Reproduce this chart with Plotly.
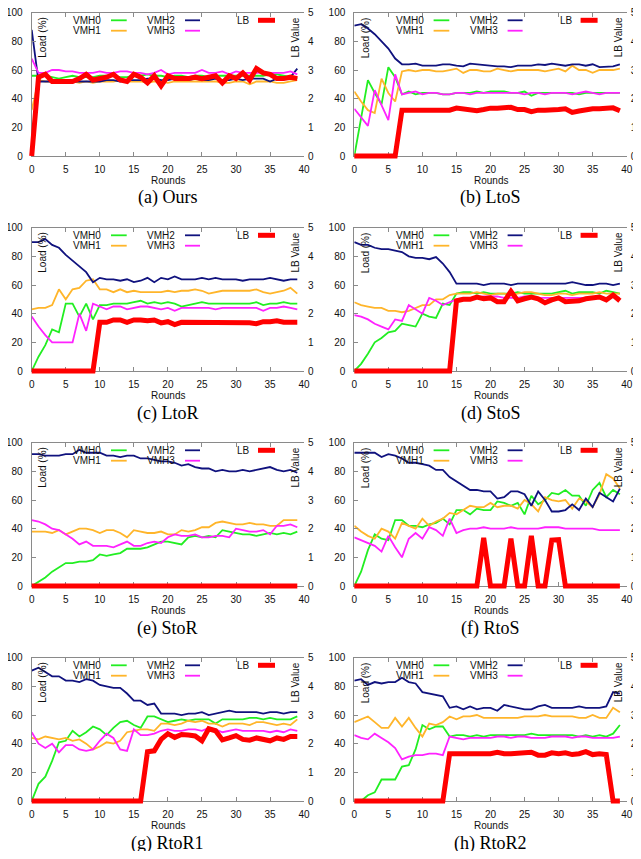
import plotly.graph_objects as go

# ---------------- data ----------------
rounds = list(range(40))
x_ticks = [0, 5, 10, 15, 20, 25, 30, 35, 40]
load_ticks = [0, 20, 40, 60, 80, 100]
lb_ticks = [0, 1, 2, 3, 4, 5]
series_names = ["VMH0", "VMH1", "VMH2", "VMH3"]
captions = ["(a) Ours", "(b) LtoS", "(c) LtoR", "(d) StoS",
            "(e) StoR", "(f) RtoS", "(g) RtoR1", "(h) RtoR2"]

# (a) Ours
a_vmh0 = [56, 56, 56, 55, 54, 55, 56, 55, 55, 55, 56, 56, 56, 55, 55, 56, 56, 57, 56, 56,
          55, 56, 56, 55, 56, 56, 55, 56, 56, 56, 56, 56, 56, 56, 56, 57, 57, 56, 55, 54]
a_vmh1 = [32, 53, 52, 52, 52, 52, 52, 51, 52, 51, 52, 52, 52, 53, 52, 52, 52, 51, 52, 52,
          51, 52, 52, 52, 52, 52, 52, 52, 51, 51, 52, 52, 50, 52, 52, 52, 51, 51, 52, 53]
a_vmh2 = [88, 52, 52, 52, 53, 53, 52, 52, 52, 52, 52, 53, 53, 52, 53, 53, 53, 54, 54, 53,
          53, 54, 54, 53, 54, 53, 53, 54, 53, 53, 54, 53, 54, 54, 54, 52, 54, 54, 55, 61]
a_vmh3 = [68, 58, 58, 60, 60, 59, 59, 58, 58, 58, 59, 58, 58, 59, 59, 58, 58, 57, 58, 60,
          57, 58, 58, 58, 58, 60, 58, 58, 59, 57, 59, 58, 58, 58, 58, 58, 58, 58, 59, 57]
a_lb = [0, 2.75, 2.85, 2.6, 2.6, 2.6, 2.6, 2.7, 2.85, 2.65, 2.7, 2.75, 2.85, 2.65, 2.6, 2.85,
        2.75, 2.55, 2.8, 2.45, 2.8, 2.7, 2.7, 2.7, 2.75, 2.7, 2.75, 2.8, 2.55, 2.8, 2.7, 2.9,
        2.65, 3.05, 2.9, 2.85, 2.7, 2.7, 2.75, 2.7]

# (b) LtoS
b_vmh0 = [0, 27, 53, 44, 36, 62, 55, 43, 45, 43, 44, 44, 44, 43, 43, 44, 44, 44, 45, 44,
          45, 45, 45, 44, 44, 45, 42, 44, 44, 44, 44, 44, 44, 43, 44, 44, 44, 44, 44, 44]
b_vmh1 = [45, 38, 32, 30, 54, 44, 38, 59, 60, 59, 60, 60, 59, 59, 60, 61, 58, 60, 60, 59,
          59, 61, 60, 59, 60, 60, 60, 60, 59, 60, 61, 59, 63, 60, 60, 58, 60, 60, 60, 61]
b_vmh2 = [91, 92, 89, 85, 80, 75, 68, 64, 64, 64.5, 63, 63, 63, 64, 64, 63, 62.5, 64.5, 64, 63,
          63, 62.5, 62.5, 62, 63, 63, 63, 64, 63.5, 64.5, 63.5, 63, 64, 64, 63, 64, 62, 62.5, 62.5, 64]
b_vmh3 = [33, 27, 21, 46, 36, 25, 57, 43, 44, 45, 43, 44, 44, 43, 43, 44, 44, 43, 44, 44,
          44, 44, 44, 44, 44, 43, 44, 44, 43, 44, 44, 44, 43, 44, 45, 44, 43, 44, 44, 44]
b_lb = [0, 0, 0, 0, 0, 0, 0, 1.6, 1.6, 1.62, 1.62, 1.62, 1.6, 1.6, 1.6, 1.67, 1.65, 1.62, 1.58, 1.62,
        1.67, 1.67, 1.67, 1.7, 1.62, 1.62, 1.55, 1.6, 1.6, 1.6, 1.62, 1.65, 1.52, 1.57, 1.62, 1.65,
        1.65, 1.65, 1.68, 1.58]

# (c) LtoR
c_vmh0 = [0, 10, 18, 29, 27, 47, 47, 38, 47, 36, 46, 46, 47, 47, 47, 48, 49, 47, 48, 47,
          48, 47, 45, 46, 47, 48, 47, 47, 47, 47, 47, 47, 47, 48, 46, 47, 47, 48, 47, 47]
c_vmh1 = [43, 44, 44, 46, 57, 50, 57, 58, 63, 64, 57, 57, 55, 57, 55, 56, 55, 55, 55, 55,
          56, 55, 56, 56, 57, 56, 54, 55, 56, 56, 56, 56, 56, 57, 55, 54, 55, 56, 58, 54]
c_vmh2 = [90, 90, 92, 88, 86, 81, 77, 73, 69, 62, 65, 64, 64, 63, 64, 62, 63, 65, 62, 65,
          64, 66, 64, 64, 64, 65, 64, 65, 64, 64, 64, 63, 64, 64, 64, 65, 64, 63, 64, 64]
c_vmh3 = [38, 31, 25, 20, 20, 20, 20, 40, 28, 47, 45, 43, 45, 45, 43, 44, 45, 45, 44, 43,
          44, 42, 44, 44, 44, 44, 44, 43, 44, 44, 44, 44, 44, 44, 42, 44, 44, 45, 44, 43]
c_lb = [0, 0, 0, 0, 0, 0, 0, 0, 0, 0, 1.7, 1.7, 1.78, 1.78, 1.7, 1.78, 1.78, 1.75, 1.78, 1.68,
        1.72, 1.62, 1.7, 1.7, 1.7, 1.72, 1.68, 1.7, 1.72, 1.7, 1.72, 1.7, 1.68, 1.65, 1.72, 1.72,
        1.75, 1.7, 1.7, 1.7]

# (d) StoS
d_vmh0 = [0, 5, 12, 20, 23, 27, 28, 33, 32, 31, 40, 38, 37, 47, 46, 54, 55, 55, 54, 55,
          54, 54, 54, 54, 55, 54, 54, 54, 54, 54, 55, 56, 54, 55, 55, 55, 54, 56, 55, 54]
d_vmh1 = [48, 46, 45, 44, 44, 42, 42, 41, 42, 44, 46, 46, 50, 50, 53, 54, 54, 54, 55, 54,
          53, 54, 54, 53, 54, 55, 55, 54, 53, 53, 54, 54, 53, 54, 54, 54, 55, 54, 54, 54]
d_vmh2 = [90, 88, 88, 86, 85, 85, 84, 83, 80, 79, 79, 78, 79.5, 75, 69, 61, 61, 61, 61, 60,
          61, 61, 61, 60, 61, 61, 61, 61, 61, 61, 61, 61, 62, 61, 60, 60, 61, 61, 60, 61]
d_vmh3 = [39, 38, 36, 33, 31, 29, 36, 35, 46, 43, 40, 51, 49, 46, 48, 50, 51, 51, 51, 52,
          52, 52, 51, 51, 51, 52, 52, 51, 51, 51, 51, 51, 51, 51, 51, 51, 51, 51, 52, 51]
d_lb = [0, 0, 0, 0, 0, 0, 0, 0, 0, 0, 0, 0, 0, 0, 0, 2.45, 2.5, 2.5, 2.58, 2.52,
        2.55, 2.42, 2.42, 2.78, 2.45, 2.52, 2.58, 2.52, 2.38, 2.48, 2.55, 2.42, 2.42, 2.45, 2.52,
        2.55, 2.58, 2.48, 2.65, 2.45]

# (e) StoR
e_vmh0 = [0, 3, 6, 10, 13, 16, 16, 17, 17, 18, 22, 21, 22, 23, 26, 26, 26, 27, 29, 31,
          31, 30, 29, 34, 35, 34, 35, 34, 39, 38, 37, 36, 36, 35, 36, 37, 36, 37, 36, 38]
e_vmh1 = [38, 38, 38, 37, 39, 36, 38, 40, 40, 39, 37, 39, 39, 37, 34, 39, 38, 37, 37, 38,
          36, 36, 39, 38, 39, 41, 41, 44, 45, 44, 43, 43, 44, 43, 43, 42, 42, 46, 46, 46]
e_vmh2 = [92, 92, 91, 91, 91, 92, 92, 95, 93, 93, 93, 91, 91, 90, 91, 91, 89, 89, 88, 87,
          87, 86, 84, 85, 83, 82, 82, 80, 81, 80, 80, 81, 80, 81, 82, 83, 81, 80, 81, 79]
e_vmh3 = [46, 45, 43, 40, 39, 36, 33, 29, 31, 28, 28, 28, 27, 29, 31, 28, 28, 30, 31, 30,
          34, 36, 35, 35, 36, 34, 34, 35, 35, 34, 40, 39, 38, 38, 39, 36, 42, 42, 43, 41]
e_lb = [0, 0, 0, 0, 0, 0, 0, 0, 0, 0, 0, 0, 0, 0, 0, 0, 0, 0, 0, 0,
        0, 0, 0, 0, 0, 0, 0, 0, 0, 0, 0, 0, 0, 0, 0, 0, 0, 0, 0, 0]

# (f) RtoS
f_vmh0 = [0, 10, 25, 36, 33, 32, 46, 46, 42, 42, 41, 43, 44, 47, 43, 53, 53, 50, 54, 53,
          53, 59, 58, 56, 58, 50, 63, 57, 60, 65, 64, 67, 63, 63, 56, 67, 72, 62, 67, 64]
f_vmh1 = [42, 38, 35, 33, 40, 38, 33, 44, 42, 40, 47, 42, 45, 47, 51, 50, 53, 56, 55, 55,
          58, 55, 56, 56, 54, 60, 57, 52, 62, 60, 59, 60, 54, 61, 59, 55, 64, 78, 75, 68]
f_vmh2 = [93, 93, 93, 93, 90, 92, 91, 89, 86, 86, 85, 84, 81, 81, 76, 73, 70, 67, 67, 66,
          66, 61, 62, 66, 66, 64, 56, 66, 60, 52, 52, 53, 57, 53, 61, 55, 65, 62, 59, 68]
f_vmh3 = [34, 32, 30, 28, 24, 35, 27, 20, 33, 37, 33, 41, 39, 35, 47, 37, 39, 40, 40, 41,
          40, 40, 40, 41, 40, 40, 40, 40, 41, 41, 41, 40, 40, 40, 40, 40, 39, 39, 39, 39]
f_lb = [0, 0, 0, 0, 0, 0, 0, 0, 0, 0, 0, 0, 0, 0, 0, 0, 0, 0, 0, 1.68,
        0, 0, 0, 1.65, 0, 0, 1.75, 0, 0, 1.6, 1.62, 0, 0, 0, 0, 0, 0, 0, 0, 0]

# (g) RtoR1
g_vmh0 = [0, 12, 17, 28, 41, 42, 49, 45, 48, 52, 50, 46, 51, 55, 56, 53, 51, 59, 59, 57,
          55, 56, 57, 56, 57, 57, 57, 54, 57, 57, 57, 57, 58, 58, 57, 58, 57, 57, 57, 59]
g_vmh1 = [44, 43, 45, 44, 43, 44, 42, 43, 40, 36, 38, 41, 40, 42, 48, 49, 50, 50, 49, 54,
          54, 53, 54, 56, 55, 56, 54, 54, 52, 54, 54, 54, 53, 55, 55, 54, 53, 54, 53, 57]
g_vmh2 = [91, 93, 90, 87, 87, 84, 84, 83, 85, 84, 81, 80, 79, 79, 75, 70, 70, 67, 68, 61,
          61, 61, 60, 61, 61, 62, 60, 61, 62, 63, 62, 62, 62, 62, 61, 62, 62, 61, 62, 62]
g_vmh3 = [48, 40, 37, 40, 34, 39, 39, 36, 35, 36, 42, 47, 44, 36, 35, 50, 46, 46, 47, 49,
          50, 49, 49, 50, 50, 49, 51, 50, 48, 49, 50, 49, 49, 49, 49, 48, 49, 48, 50, 49]
g_lb = [0, 0, 0, 0, 0, 0, 0, 0, 0, 0, 0, 0, 0, 0, 0, 0, 0, 1.72, 1.75, 2.15,
        2.35, 2.22, 2.32, 2.3, 2.27, 2.1, 2.52, 2.45, 2.13, 2.2, 2.28, 2.15, 2.12, 2.2, 2.15,
        2.1, 2.2, 2.15, 2.25, 2.25]

# (h) RtoR2
h_vmh0 = [0, 0, 4, 6, 15, 15, 15, 24, 25, 36, 53, 50, 52, 52, 45, 46, 46, 45, 46, 45,
          46, 46, 46, 46, 46, 46, 47, 46, 46, 46, 46, 46, 46, 45, 46, 45, 46, 45, 47, 53]
h_vmh1 = [55, 57, 59, 55, 51, 51, 58, 52, 58, 51, 45, 54, 53, 55, 59, 57, 59, 59, 60, 58,
          58, 58, 58, 58, 58, 59, 59, 59, 60, 59, 59, 59, 59, 58, 58, 60, 58, 58, 65, 62]
h_vmh2 = [84, 85, 81, 83, 82, 83, 83, 86, 83, 82, 76, 75, 74, 73, 65, 66, 64, 66, 64, 65,
          65, 63, 67, 66, 65, 64, 64, 66, 67, 65, 65, 65, 65, 66, 65, 65, 65, 66, 76, 75]
h_vmh3 = [46, 44, 43, 47, 44, 41, 37, 29, 31, 32, 32, 33, 33, 32, 45, 44, 43, 44, 44, 44,
          44, 45, 45, 44, 45, 45, 44, 44, 44, 45, 45, 45, 44, 45, 45, 44, 44, 44, 44, 45]
h_lb = [0, 0, 0, 0, 0, 0, 0, 0, 0, 0, 0, 0, 0, 0, 1.65, 1.65, 1.62, 1.62, 1.65, 1.65,
        1.65, 1.7, 1.65, 1.65, 1.68, 1.7, 1.7, 1.6, 1.6, 1.68, 1.65, 1.68, 1.62, 1.65, 1.72,
        1.62, 1.65, 1.62, 0, 0]

panels = [
    (a_vmh0, a_vmh1, a_vmh2, a_vmh3, a_lb),
    (b_vmh0, b_vmh1, b_vmh2, b_vmh3, b_lb),
    (c_vmh0, c_vmh1, c_vmh2, c_vmh3, c_lb),
    (d_vmh0, d_vmh1, d_vmh2, d_vmh3, d_lb),
    (e_vmh0, e_vmh1, e_vmh2, e_vmh3, e_lb),
    (f_vmh0, f_vmh1, f_vmh2, f_vmh3, f_lb),
    (g_vmh0, g_vmh1, g_vmh2, g_vmh3, g_lb),
    (h_vmh0, h_vmh1, h_vmh2, h_vmh3, h_lb),
]
for p in panels:
    for s in p:
        assert len(s) == 40, len(s)

# ---------------- style ----------------
# The page body adds an 8px margin; keep the page exactly 641x859 (no overflow).
OFF = 8.0
W, H = 641 - OFF, 859 - 2 * OFF
PW, PH = 272.4, 143.3
COL_X = [31.7 - OFF, 354.3 - OFF]
ROW_Y0, ROW_STEP = 12.7 - OFF, 215.0
CAP_Y0 = 198.0 - OFF
EXT = 4.0  # extra room around the LB subplot so its thick line is not clipped

colors = ["#22ee22", "#ffb52a", "#10127e", "#ff22ff"]
lb_color = "#ff0000"
axis_gray = "#8a8a8a"
LOAD_W, LB_W = 1.8, 5.0
txt_font = dict(family="Liberation Sans, Arial, sans-serif", size=10, color="#111111")
cap_font = dict(family="Liberation Serif, Times New Roman, serif", size=18, color="#000000")

fig = go.Figure()
layout = dict(width=W, height=H, margin=dict(l=0, r=0, t=0, b=0, pad=0),
              paper_bgcolor="white", plot_bgcolor="rgba(0,0,0,0)", showlegend=False,
              annotations=[], shapes=[])

n = len(panels)
for i, (v0, v1, v2, v3, lb) in enumerate(panels):
    r, c = divmod(i, 2)
    x0 = COL_X[c]
    top = ROW_Y0 + ROW_STEP * r
    xa = "x" if i == 0 else f"x{i + 1}"
    yl = "y" if i == 0 else f"y{2 * i + 1}"
    yr = f"y{2 * i + 2}"
    xkey = "xaxis" if i == 0 else f"xaxis{i + 1}"
    ylkey = "yaxis" if i == 0 else f"yaxis{2 * i + 1}"
    yrkey = f"yaxis{2 * i + 2}"
    # axis pair for the LB series (same pixel scale, slightly larger area)
    xb_id = n + i + 1
    yb_id = 2 * n + i + 1
    xb, yb = f"x{xb_id}", f"y{yb_id}"

    for name, vals, col in zip(series_names, (v0, v1, v2, v3), colors):
        fig.add_trace(go.Scatter(x=rounds, y=vals, mode="lines", name=name,
                                 line=dict(color=col, width=LOAD_W),
                                 xaxis=xa, yaxis=yl, hoverinfo="skip"))
    fig.add_trace(go.Scatter(x=rounds, y=lb, mode="lines", name="LB",
                             line=dict(color=lb_color, width=LB_W),
                             xaxis=xb, yaxis=yb, hoverinfo="skip"))

    xd = [x0 / W, (x0 + PW) / W]
    yd = [1 - (top + PH) / H, 1 - top / H]
    common = dict(showgrid=False, zeroline=False, showline=True, linecolor=axis_gray,
                  linewidth=1, ticks="inside", ticklen=4, tickcolor=axis_gray,
                  tickfont=txt_font, automargin=False, fixedrange=True,
                  ticklabeloverflow="allow")
    layout[xkey] = dict(common, domain=xd, anchor=yl, range=[0, 40], tickvals=x_ticks,
                        mirror="ticks", ticklabelstandoff=4)
    layout[ylkey] = dict(common, domain=yd, anchor=xa, range=[0, 100], tickvals=load_ticks,
                         ticklabelstandoff=6)
    # right border with inward ticks (labels come from the LB axis below)
    layout[yrkey] = dict(common, anchor=xa, overlaying=yl, side="right", range=[0, 5],
                         tickvals=lb_ticks, showticklabels=False)
    # LB axes: same pixel scale as the right axis, extended by EXT px on each side
    ex = EXT * 40 / PW
    ey = EXT * 5 / PH
    layout[f"xaxis{xb_id}"] = dict(visible=False, domain=[(x0 - EXT) / W, (x0 + PW + EXT) / W],
                                   range=[-ex, 40 + ex], anchor=yb, fixedrange=True)
    layout[f"yaxis{yb_id}"] = dict(domain=[1 - (top + PH + EXT) / H, 1 - (top - EXT) / H],
                                   range=[-ey, 5 + ey], anchor="free",
                                   position=(x0 + PW) / W, side="right",
                                   tickvals=lb_ticks, showticklabels=True, ticks="",
                                   showline=False, showgrid=False, zeroline=False,
                                   tickfont=txt_font, ticklabelstandoff=3,
                                   ticklabeloverflow="allow", automargin=False,
                                   fixedrange=True)

    xdom = f"{xa} domain"
    ydom = f"{yl} domain"
    ann = layout["annotations"]
    shp = layout["shapes"]
    # axis titles
    ann.append(dict(text="Load (%)", xref=xdom, yref=ydom, x=11.3 / PW, y=1 - 2.5 / PH,
                    xanchor="center", yanchor="top", textangle=-90, showarrow=False, font=txt_font))
    ann.append(dict(text="LB Value", xref=xdom, yref=ydom, x=1 - 8.7 / PW, y=1 - 2.5 / PH,
                    xanchor="center", yanchor="top", textangle=-90, showarrow=False, font=txt_font))
    ann.append(dict(text="Rounds", xref=xdom, yref=ydom, x=0.5, y=-24 / PH,
                    xanchor="center", yanchor="middle", showarrow=False, font=txt_font))
    # caption
    ann.append(dict(text=captions[i], xref="paper", yref="paper", x=(x0 + PW / 2) / W,
                    y=1 - (CAP_Y0 + ROW_STEP * r) / H, xanchor="center", yanchor="middle",
                    showarrow=False, font=cap_font))
    # legend (text right-aligned, then a line sample)
    legend_items = [("VMH0", colors[0], LOAD_W, 71.3, 79.3, 95.0, 7.6),
                    ("VMH1", colors[1], LOAD_W, 71.3, 79.3, 95.0, 18.0),
                    ("VMH2", colors[2], LOAD_W, 145.3, 153.3, 168.3, 7.6),
                    ("VMH3", colors[3], LOAD_W, 145.3, 153.3, 168.3, 18.0),
                    ("LB", lb_color, LB_W, 220.3, 226.3, 243.3, 7.6)]
    for label, col, lw, tx, sx0, sx1, ty in legend_items:
        ann.append(dict(text=label, xref=xdom, yref=ydom, x=tx / PW, y=1 - ty / PH,
                        xanchor="right", yanchor="middle", showarrow=False, font=txt_font))
        shp.append(dict(type="line", xref=xdom, yref=ydom, x0=sx0 / PW, x1=sx1 / PW,
                        y0=1 - ty / PH, y1=1 - ty / PH, line=dict(color=col, width=lw)))

fig.update_layout(**layout)
fig.write_html("out.html")
